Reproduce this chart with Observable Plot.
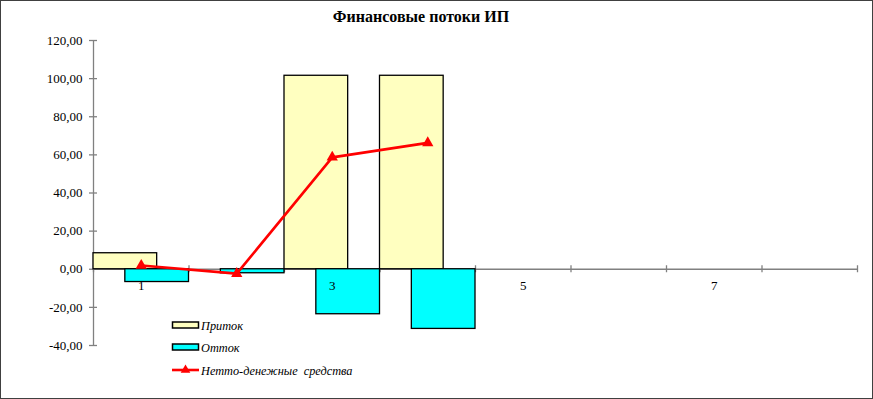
<!DOCTYPE html>
<html>
<head>
<meta charset="utf-8">
<script src="https://cdn.jsdelivr.net/npm/d3@7"></script>
<script src="https://cdn.jsdelivr.net/npm/@observablehq/plot@0.6"></script>
<style>
  html, body { margin: 0; padding: 0; background: #fff; }
  #wrap { position: relative; width: 873px; height: 399px; overflow: hidden; background: #fff; }
  #chart svg { display: block; }
  #overlay { position: absolute; left: 0; top: 0; pointer-events: none; }
  #border { position: absolute; left: 0; top: 0; width: 873px; height: 399px; box-sizing: border-box; border: 1px solid #404040; pointer-events: none; }
  svg text { font-family: "Liberation Serif", "DejaVu Serif", serif; }
</style>
</head>
<body>
<div id="wrap">
  <div id="chart"></div>
  <svg id="overlay" width="873" height="399"></svg>
  <div id="border"></div>
</div>
<script>
// ---- data ----
const title = "Финансовые потоки ИП";
const categories = [1, 2, 3, 4, 5, 6, 7, 8];
const inflow  = [8.4, 0, 101.5, 101.5, 0, 0, 0, 0];      // Приток
const outflow = [-6.7, -2.1, -23.6, -31.3, 0, 0, 0, 0];  // Отток
const netCategories = [1, 2, 3, 4];
const net = [2.0, -2.3, 58.7, 66.3];                     // Нетто-денежные средства
const yTicks = [-40, -20, 0, 20, 40, 60, 80, 100, 120];
const xTickLabels = [1, 3, 5, 7];
const seriesNames = ["Приток", "Отток", "Нетто-денежные  средства"];
const colors = { inflow: "#FFFFC0", outflow: "#00FFFF", net: "#FF0000" };

const serif = "Liberation Serif";
const axisGray = "#808080";

const inflowData = categories.map((c, i) => ({ c, v: inflow[i] })).filter(d => d.v !== 0);
const outflowData = categories.map((c, i) => ({ c, v: outflow[i] })).filter(d => d.v !== 0);
const netData = netCategories.map((c, i) => ({ c, v: net[i] }));
const bandEdges = d3.range(categories.length + 1).map(i => i + 0.5);
const xmin = bandEdges[0], xmax = bandEdges[bandEdges.length - 1];
const fmt = v => v.toFixed(2).replace(".", ",");

const chart = Plot.plot({
  width: 873,
  height: 399,
  marginLeft: 93,
  marginRight: 16,
  marginTop: 40,
  marginBottom: 54,
  style: { fontFamily: serif, fontSize: "13px", background: "transparent", color: "#000" },
  x: { type: "linear", domain: [xmin, xmax], axis: null },
  y: { domain: [d3.min(yTicks), d3.max(yTicks)], axis: null },
  marks: [
    Plot.ruleX([xmin], { y1: d3.min(yTicks), y2: d3.max(yTicks), stroke: axisGray, strokeWidth: 1.3 }),
    Plot.ruleY(yTicks, { y: d => d, x1: xmin, x2: xmin, insetLeft: -4, insetRight: -4, stroke: axisGray, strokeWidth: 1.3 }),
    Plot.ruleY([0], { x1: xmin, x2: xmax, stroke: axisGray, strokeWidth: 1.3 }),
    Plot.ruleX(bandEdges, { x: d => d, y1: 0, y2: 0, insetTop: -3.5, insetBottom: -3.5, stroke: axisGray, strokeWidth: 1.3 }),
    Plot.rectY(inflowData, { x1: d => d.c - 0.5, x2: d => d.c + 1 / 6, y1: 0, y2: "v", fill: colors.inflow, stroke: "#000", strokeWidth: 1.3 }),
    Plot.rectY(outflowData, { x1: d => d.c - 1 / 6, x2: d => d.c + 0.5, y1: 0, y2: "v", fill: colors.outflow, stroke: "#000", strokeWidth: 1.3 }),
    Plot.text(yTicks, { x: xmin, y: d => d, text: fmt, textAnchor: "end", dx: -11, fontSize: 13, fill: "#000" }),
    Plot.text(xTickLabels, { x: d => d, y: 0, text: d => String(d), dy: 17, fontSize: 13, fill: "#000" }),
    Plot.line(netData, { x: "c", y: "v", stroke: colors.net, strokeWidth: 2.6 }),
    Plot.dot(netData, { x: "c", y: "v", symbol: "triangle", r: 4.2, fill: colors.net, stroke: "none" })
  ]
});
document.getElementById("chart").appendChild(chart);

// ---- title and legend ----
const ov = d3.select("#overlay");
ov.append("text")
  .attr("x", 421).attr("y", 22)
  .attr("text-anchor", "middle")
  .style("font-weight", "bold").style("font-size", "16px")
  .text(title);

const lg = ov.append("g").attr("transform", "translate(172,0)");
const rows = [325, 347, 370];
[colors.inflow, colors.outflow].forEach((c, i) => {
  lg.append("rect").attr("x", 0.5).attr("y", rows[i] - 3).attr("width", 26).attr("height", 6)
    .attr("fill", c).attr("stroke", "#000").attr("stroke-width", 1.5);
});
lg.append("line").attr("x1", 0).attr("x2", 27).attr("y1", rows[2]).attr("y2", rows[2])
  .attr("stroke", colors.net).attr("stroke-width", 2.6);
lg.append("path").attr("d", d3.symbol(d3.symbolTriangle, 40)()).attr("transform", `translate(13.5,${rows[2]})`)
  .attr("fill", colors.net);
seriesNames.forEach((name, i) => {
  lg.append("text").attr("x", 29).attr("y", rows[i] + 4.5)
    .style("font-style", "italic").style("font-size", "12.3px")
    .style("white-space", "pre")
    .text(name);
});
</script>
</body>
</html>
